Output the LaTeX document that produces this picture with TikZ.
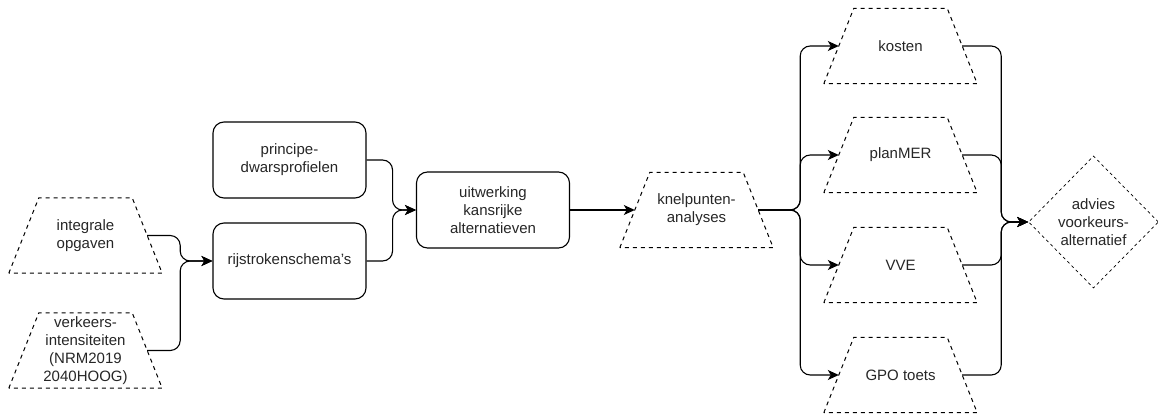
\documentclass[tikz,border=0pt]{standalone}
\usepackage{fontspec}
\setmainfont{Liberation Sans}
\usetikzlibrary{arrows.meta,shapes.geometric}
\tikzset{>={Stealth[length=11pt,width=10pt,inset=3pt]}}
\tikzset{
  txt/.style={align=center, text=black!85, font=\fontsize{15}{18}\selectfont},
  procbox/.style={txt, draw, line width=1.1pt, rounded corners=11pt, minimum width=153pt, minimum height=76pt},
  % dashed trapezium drawn round a fixed box
  databox/.style={txt, minimum width=153pt, minimum height=75pt, inner sep=0pt,
    append after command={\pgfextra{\draw[line width=1pt, dash pattern=on 4pt off 4pt]
      (\tikzlastnode.south west) -- ([xshift=30pt]\tikzlastnode.north west)
      -- ([xshift=-30pt]\tikzlastnode.north east) -- (\tikzlastnode.south east) -- cycle;}}},
  choicebox/.style={txt, diamond, draw, line width=0.7pt, dash pattern=on 3pt off 3pt, minimum width=130pt, minimum height=132pt, inner sep=1pt},
  flow/.style={->, line width=1.1pt, rounded corners=10pt}
}

\begin{document}
\begin{tikzpicture}[x=1pt, y=-1pt]
\useasboundingbox (0,0) rectangle (1158,414);
\node[databox] (integ) at (85.5,235.5) {integrale\\opgaven};
\node[databox] (verk) at (85.5,350.5) {verkeers-\\intensiteiten\\(NRM2019\\2040HOOG)};
\node[procbox] (princ) at (289.5,160) {principe-\\dwarsprofielen};
\node[procbox] (rijs) at (289.5,261) {rijstrokenschema's};
\node[procbox] (uitw) at (493,210) {uitwerking\\kansrijke\\alternatieven};
\node[databox] (knel) at (696.5,210) {knelpunten-\\analyses};
\node[databox] (kosten) at (900.5,46) {kosten};
\node[databox] (planmer) at (900.5,155) {planMER};
\node[databox] (vve) at (900.5,265) {VVE};
\node[databox] (gpo) at (900.5,375) {GPO toets};
\node[choicebox] (advies) at (1093.5,222) {advies\\voorkeurs-\\alternatief};

\draw[flow] ([xshift=-15pt]integ.east) -- ++(33,0) |- (rijs.west);
\draw[flow] ([xshift=-15pt]verk.east) -- ++(33,0) |- (rijs.west);
\draw[flow] (princ.east) -- ++(26,0) |- (uitw.west);
\draw[flow] (rijs.east) -- ++(26,0) |- (uitw.west);
\draw[flow] (uitw.east) -- ([xshift=15pt]knel.west);

\draw[flow] ([xshift=-15pt]knel.east) -- ++(42,0) |- ([xshift=15pt]kosten.west);
\draw[flow] ([xshift=-15pt]knel.east) -- ++(42,0) |- ([xshift=15pt]planmer.west);
\draw[flow] ([xshift=-15pt]knel.east) -- ++(42,0) |- ([xshift=15pt]vve.west);
\draw[flow] ([xshift=-15pt]knel.east) -- ++(42,0) |- ([xshift=15pt]gpo.west);

\draw[flow] ([xshift=-15pt]kosten.east) -- ++(39,0) |- (advies.west);
\draw[flow] ([xshift=-15pt]planmer.east) -- ++(39,0) |- (advies.west);
\draw[flow] ([xshift=-15pt]vve.east) -- ++(39,0) |- (advies.west);
\draw[flow] ([xshift=-15pt]gpo.east) -- ++(39,0) |- (advies.west);
\end{tikzpicture}
\end{document}
